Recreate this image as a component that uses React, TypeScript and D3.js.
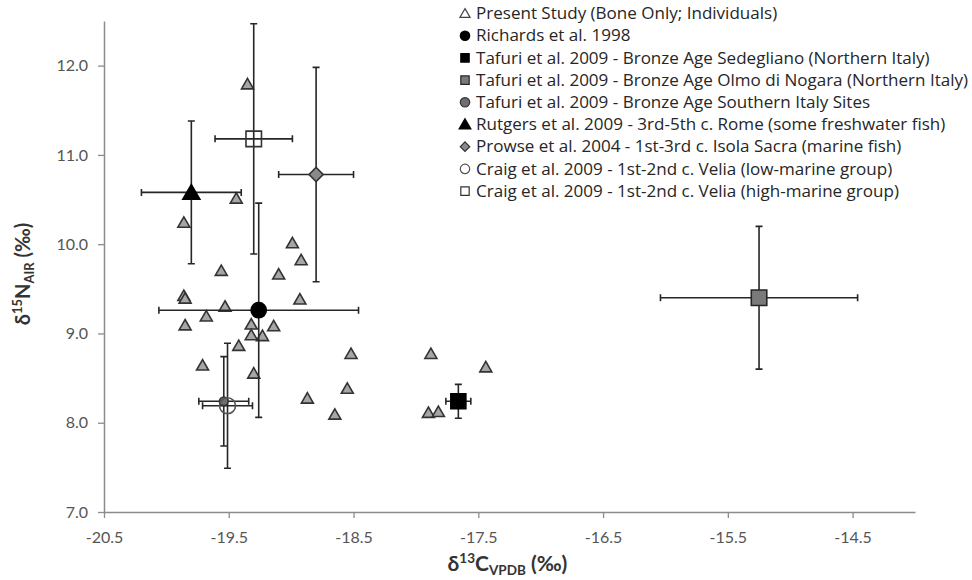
import React, { useEffect, useRef } from 'react';
import * as d3 from 'd3';

// present study, bone only, one point per individual
const studyC = [-19.35, -19.44, -19.86, -18.99, -18.92, -19.56, -19.10, -19.86, -19.85, -18.93, -19.53, -19.68, -19.85, -19.32,
  -19.14, -19.32, -19.23, -19.42, -19.71, -19.30, -18.52, -17.88, -18.55, -18.87, -18.65, -17.90, -17.82, -17.44];
const studyN = [11.79, 10.51, 10.24, 10.01, 9.82, 9.70, 9.66, 9.42, 9.39, 9.38, 9.30, 9.19, 9.09, 9.10,
  9.08, 8.98, 8.97, 8.86, 8.64, 8.55, 8.77, 8.77, 8.38, 8.27, 8.09, 8.11, 8.12, 8.62];

// comparison groups: mean +/- 1 sd
const groupNames = [
  'Richards et al. 1998',
  'Tafuri et al. 2009 - Bronze Age Sedegliano (Northern Italy)',
  'Tafuri et al. 2009 - Bronze Age Olmo di Nogara (Northern Italy)',
  'Tafuri et al. 2009 - Bronze Age Southern Italy Sites',
  'Rutgers et al. 2009 - 3rd-5th c. Rome (some freshwater fish)',
  'Prowse et al. 2004 - 1st-3rd c. Isola Sacra (marine fish)',
  'Craig et al. 2009 - 1st-2nd c. Velia (low-marine group)',
  'Craig et al. 2009 - 1st-2nd c. Velia (high-marine group)',
];
const groupC = [-19.26, -17.66, -15.25, -19.54, -19.80, -18.80, -19.51, -19.30];
const groupN = [9.26, 8.24, 9.40, 8.24, 10.58, 10.78, 8.19, 11.18];
const groupSdC = [0.8, 0.1, 0.79, 0.2, 0.4, 0.3, 0.2, 0.31];
const groupSdN = [1.2, 0.19, 0.8, 0.5, 0.8, 1.2, 0.7, 1.29];

const studyLabel = 'Present Study (Bone Only; Individuals)';

const xTicks = [-20.5, -19.5, -18.5, -17.5, -16.5, -15.5, -14.5];
const yTicks = [7, 8, 9, 10, 11, 12];

const FONT = "Lato, 'Liberation Sans', sans-serif";
const LEGEND_FONT = "'Open Sans', Lato, sans-serif";
const INK = '#262626';

// marker look for each group, same order as groupNames
const groupStyle = [
  { shape: d3.symbolCircle, size: 180, fill: '#000', stroke: '#000', rot: 0 },
  { shape: d3.symbolSquare, size: 225, fill: '#000', stroke: '#000', rot: 0 },
  { shape: d3.symbolSquare, size: 240, fill: '#7a7a7a', stroke: '#262626', rot: 0 },
  { shape: d3.symbolCircle, size: 60, fill: '#6e6e6e', stroke: '#333', rot: 0 },
  { shape: d3.symbolTriangle, size: 125, fill: '#000', stroke: '#000', rot: 0 },
  { shape: d3.symbolSquare, size: 100, fill: '#8a8a8a', stroke: '#333', rot: 45 },
  { shape: d3.symbolCircle, size: 200, fill: 'none', stroke: '#555', rot: 0 },
  { shape: d3.symbolSquare, size: 240, fill: 'none', stroke: '#333', rot: 0 },
];

const App = () => {
  const svgRef = useRef<SVGSVGElement>(null);

  useEffect(() => {
    const width = 972;
    const height = 580;
    const margin = { top: 21, right: 57, bottom: 68, left: 104 };

    const x = d3.scaleLinear().domain([-20.5, -14.0]).range([margin.left, width - margin.right]);
    const y = d3.scaleLinear().domain([7, 12.5]).range([height - margin.bottom, margin.top]);

    const svg = d3.select(svgRef.current);
    svg.selectAll('*').remove();

    // axes
    const xAxis = svg.append('g')
      .attr('transform', `translate(0,${y(7)})`)
      .call(d3.axisBottom(x).tickValues(xTicks).tickSize(6).tickSizeOuter(0).tickFormat(d3.format('.1f')));
    const yAxis = svg.append('g')
      .attr('transform', `translate(${x(-20.5)},0)`)
      .call(d3.axisLeft(y).tickValues(yTicks).tickSize(6).tickSizeOuter(0).tickFormat(d3.format('.1f')));

    [xAxis, yAxis].forEach(a => {
      a.select('.domain').attr('stroke', '#8c8c8c').attr('stroke-width', 1.5);
      a.selectAll('.tick line').attr('stroke', '#8c8c8c').attr('stroke-width', 1.3);
      a.selectAll('.tick text').attr('fill', '#555').attr('font-size', 16).attr('font-family', FONT);
    });
    xAxis.selectAll('.tick text').attr('dy', '1.4em').text((d: any) => d3.format('.1f')(d).replace('−', '-'));
    yAxis.selectAll('.tick text').attr('x', -16);

    // axis titles
    const xt = svg.append('text')
      .attr('x', (x(-20.5) + x(-14)) / 2 - 2)
      .attr('y', 571)
      .attr('text-anchor', 'middle')
      .attr('font-family', FONT).attr('font-weight', 700).attr('font-size', 21).attr('fill', '#333');
    xt.append('tspan').text('δ');
    xt.append('tspan').attr('font-size', 13.5).attr('dy', -8).text('13');
    xt.append('tspan').attr('dy', 8).text('C');
    xt.append('tspan').attr('font-size', 13.5).attr('dy', 4).text('VPDB');
    xt.append('tspan').attr('dy', -4).text(' (‰)');

    const yt = svg.append('text')
      .attr('transform', 'translate(30,274) rotate(-90)')
      .attr('text-anchor', 'middle')
      .attr('font-family', FONT).attr('font-weight', 700).attr('font-size', 20).attr('fill', '#333');
    yt.append('tspan').text('δ');
    yt.append('tspan').attr('font-size', 13).attr('dy', -8).text('15');
    yt.append('tspan').attr('dy', 8).text('N');
    yt.append('tspan').attr('font-size', 13).attr('dy', 4).text('AIR');
    yt.append('tspan').attr('dy', -4).text(' (‰)');

    // present study triangles
    const tri = d3.symbol().type(d3.symbolTriangle).size(62);
    svg.append('g').selectAll('path')
      .data(studyC.map((c, i) => [c, studyN[i]]))
      .join('path')
      .attr('d', tri)
      .attr('transform', d => `translate(${x(d[0])},${y(d[1]) + 1})`)
      .attr('fill', '#a6a6a6')
      .attr('stroke', '#333')
      .attr('stroke-width', 1.6);

    // groups: error bars then markers
    const groups = groupNames.map((name, i) => ({
      name, c: groupC[i], n: groupN[i], sc: groupSdC[i], sn: groupSdN[i], st: groupStyle[i],
    }));
    const cap = 3.5;
    const eb = svg.append('g').attr('stroke', INK).attr('stroke-width', 1.6).attr('fill', 'none');
    groups.forEach(g => {
      const cx = x(g.c), cy = y(g.n);
      const x0 = x(g.c - g.sc), x1 = x(g.c + g.sc);
      const y0 = y(g.n - g.sn), y1 = y(g.n + g.sn);
      eb.append('path').attr('d',
        `M${x0},${cy}H${x1}M${x0},${cy - cap}V${cy + cap}M${x1},${cy - cap}V${cy + cap}` +
        `M${cx},${y0}V${y1}M${cx - cap},${y0}H${cx + cap}M${cx - cap},${y1}H${cx + cap}`);
    });
    svg.append('g').selectAll('path')
      .data(groups)
      .join('path')
      .attr('d', g => d3.symbol().type(g.st.shape).size(g.st.size)())
      .attr('transform', g => `translate(${x(g.c)},${y(g.n) + (g.st.shape === d3.symbolTriangle ? 2 : 0)}) rotate(${g.st.rot})`)
      .attr('fill', g => g.st.fill)
      .attr('stroke', g => g.st.stroke)
      .attr('stroke-width', 1.6);

    // legend (text slightly widened to match the original's wide glyphs)
    const legend = svg.append('g');
    const rows = [
      { label: studyLabel, shape: d3.symbolTriangle, size: 45, fill: '#fff', stroke: '#444', rot: 0 },
      ...groups.map(g => ({
        label: g.name, shape: g.st.shape,
        size: g.st.shape === d3.symbolTriangle ? 60 : g.st.rot ? 45 : 70,
        fill: g.st.fill === 'none' ? '#fff' : g.st.fill, stroke: g.st.stroke, rot: g.st.rot,
      })),
    ];
    rows.forEach((r, i) => {
      const ry = 13.5 + i * 22.2;
      legend.append('path')
        .attr('d', d3.symbol().type(r.shape).size(r.size)())
        .attr('transform', `translate(465,${ry + (r.shape === d3.symbolTriangle ? 1 : 0)}) rotate(${r.rot})`)
        .attr('fill', r.fill)
        .attr('stroke', r.stroke)
        .attr('stroke-width', 1.2);
      legend.append('text')
        .attr('transform', `translate(476,${ry}) scale(1.065,1)`)
        .attr('dy', '0.35em')
        .attr('font-family', LEGEND_FONT)
        .attr('font-size', 16)
        .attr('fill', INK)
        .text(r.label);
    });
  }, []);

  return (
    <svg ref={svgRef} width={972} height={580}
      style={{ position: 'absolute', left: 0, top: 0, background: '#fff' }} />
  );
};

export default App;
